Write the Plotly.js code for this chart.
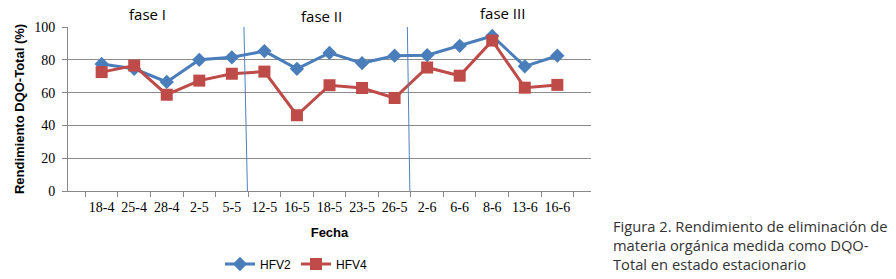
<!DOCTYPE html>
<html>
<head>
<meta charset="utf-8">
<script src="https://cdn.plot.ly/plotly-3.0.1.min.js"></script>
<style>html,body{margin:0;padding:0;background:#fff;}#chart{width:896px;height:279px;}</style>
</head>
<body>
<div id="chart"></div>
<script>
var fechas = ["18-4","25-4","28-4","2-5","5-5","12-5","16-5","18-5","23-5","26-5","2-6","6-6","8-6","13-6","16-6"];
var hfv2 = [77.5, 74.5, 66.5, 80, 81.5, 85.3, 74.5, 84.2, 78, 82.5, 82.8, 88.5, 94.5, 76, 82.5];
var hfv4 = [72.5, 76.5, 58.7, 67.3, 71.5, 72.8, 46.2, 64.5, 62.8, 56.7, 75.3, 70.3, 91.7, 63, 64.7];
var fases = ["fase I", "fase II", "fase III"];
var captionLines = ["Figura 2. Rendimiento de eliminación de", "materia orgánica medida como DQO-", "Total en estado estacionario"];

var traces = [
  {x: fechas, y: hfv2, name: "HFV2", type: "scatter", mode: "lines+markers",
   line: {color: "#4a7ebb", width: 3}, marker: {symbol: "diamond", size: 11, color: "#4a7ebb"}},
  {x: fechas, y: hfv4, name: "HFV4", type: "scatter", mode: "lines+markers",
   line: {color: "#be4b48", width: 3}, marker: {symbol: "square", size: 12, color: "#be4b48"}}
];

var PH = 279 - 27 - 88;
var faseFont = {size: 15, family: "Open Sans, sans-serif"};
var annotations = [
  {text: fases[0], xref: "x", yref: "paper", x: 1.4, y: (279 - 14 - 88) / PH, yanchor: "middle", showarrow: false, font: faseFont},
  {text: fases[1], xref: "x", yref: "paper", x: 6.75, y: (279 - 15.5 - 88) / PH, yanchor: "middle", showarrow: false, font: faseFont},
  {text: fases[2], xref: "x", yref: "paper", x: 12.3, y: (279 - 13 - 88) / PH, yanchor: "middle", showarrow: false, font: faseFont},
  {text: captionLines.join("<br>"), xref: "paper", yref: "paper", x: (611 - 68) / 523, xanchor: "left",
    y: (279 - 245 - 88) / PH, yanchor: "middle", align: "left", showarrow: false,
    font: {size: 14.7, color: "#333", family: "Open Sans, sans-serif"}}
];

var layout = {
  width: 896, height: 279,
  margin: {l: 68, r: 305, t: 27, b: 88, autoexpand: false},
  paper_bgcolor: "#fff", plot_bgcolor: "#fff",
  font: {family: "Liberation Sans, Arial, sans-serif", color: "#000", size: 13},
  showlegend: true,
  legend: {orientation: "h", x: (220 - 68) / 523, xanchor: "left", y: -(264 - 191) / PH, yanchor: "middle",
    font: {size: 12, family: "Liberation Sans Narrow, Liberation Sans, sans-serif"}, tracegroupgap: 0},
  xaxis: {type: "category", tickson: "boundaries", ticks: "outside", ticklen: 5, tickcolor: "#888",
    tickangle: 0, ticklabelstandoff: 3, showline: true, linecolor: "#888", linewidth: 1, showgrid: false, zeroline: false,
    tickfont: {size: 14, family: "Liberation Serif, serif"},
    title: {text: "<b>Fecha</b>", font: {size: 13}, standoff: 14}},
  yaxis: {range: [0, 100], dtick: 20, ticks: "outside", ticklen: 5, tickcolor: "#888",
    ticklabelstandoff: 4, showline: true, linecolor: "#888", linewidth: 1, showgrid: true, gridcolor: "#8c8c8c", gridwidth: 1,
    zeroline: false, tickfont: {size: 14, family: "Liberation Serif, serif"},
    title: {text: "<b>Rendimiento DQO-Total (%)</b>", font: {size: 13}, standoff: 6}},
  shapes: [
    {type: "line", xref: "x", yref: "y", x0: 4.37, x1: 4.48, y0: 101.5, y1: -1.5, line: {color: "#4f81bd", width: 1}},
    {type: "line", xref: "x", yref: "y", x0: 9.39, x1: 9.47, y0: 101.5, y1: -1.5, line: {color: "#4f81bd", width: 1}}
  ],
  annotations: annotations
};

Plotly.newPlot("chart", traces, layout, {displayModeBar: false, staticPlot: true});
</script>
</body>
</html>
